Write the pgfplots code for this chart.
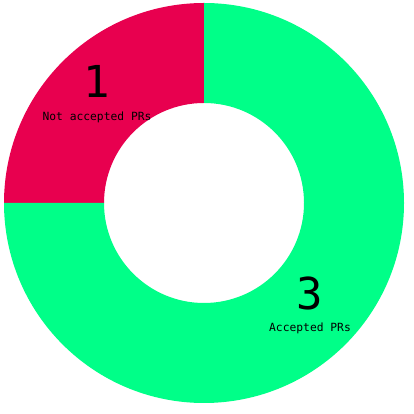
\documentclass[border=0pt]{standalone}
\usepackage{pgfplots}
\pgfplotsset{compat=1.18}
\usepackage{fontspec}
\setmainfont{DejaVu Sans Mono}
\definecolor{redslice}{HTML}{E8004F}
\definecolor{greenslice}{HTML}{00FF88}
\begin{document}
\begin{tikzpicture}
% values: Not accepted PRs = 1, Accepted PRs = 3
\pgfmathsetmacro{\va}{1}
\pgfmathsetmacro{\vb}{3}
\pgfmathsetmacro{\tot}{\va+\vb}
\pgfmathsetmacro{\aA}{90}
\pgfmathsetmacro{\aB}{90+360*\va/\tot}
\pgfmathsetmacro{\aC}{\aB+360*\vb/\tot}
\begin{axis}[
  scale only axis, width=414pt, height=414pt,
  xmin=-1.02, xmax=1.05, ymin=-1.055, ymax=1.015,
  hide axis, clip=false,
]
\path (axis cs:-1.02,-1.055) rectangle (axis cs:1.05,1.015);
\fill[redslice] (axis cs:0,0) ++(\aA:200pt) arc[start angle=\aA, end angle=\aB, radius=200pt]
   -- ++(\aB+180:100pt) arc[start angle=\aB, end angle=\aA, radius=100pt] -- cycle;
\fill[greenslice] (axis cs:0,0) ++(\aB:200pt) arc[start angle=\aB, end angle=\aC, radius=200pt]
   -- ++(\aC+180:100pt) arc[start angle=\aC, end angle=\aB, radius=100pt] -- cycle;
\node[font=\fontsize{44}{44}\selectfont] at (axis cs:-0.535,0.61) {1};
\node[font=\fontsize{11.3}{11.3}\selectfont] at (axis cs:-0.535,0.43) {Not accepted PRs};
\node[font=\fontsize{44}{44}\selectfont] at (axis cs:0.53,-0.45) {3};
\node[font=\fontsize{11.3}{11.3}\selectfont] at (axis cs:0.53,-0.625) {Accepted PRs};
\end{axis}
\end{tikzpicture}
\end{document}
